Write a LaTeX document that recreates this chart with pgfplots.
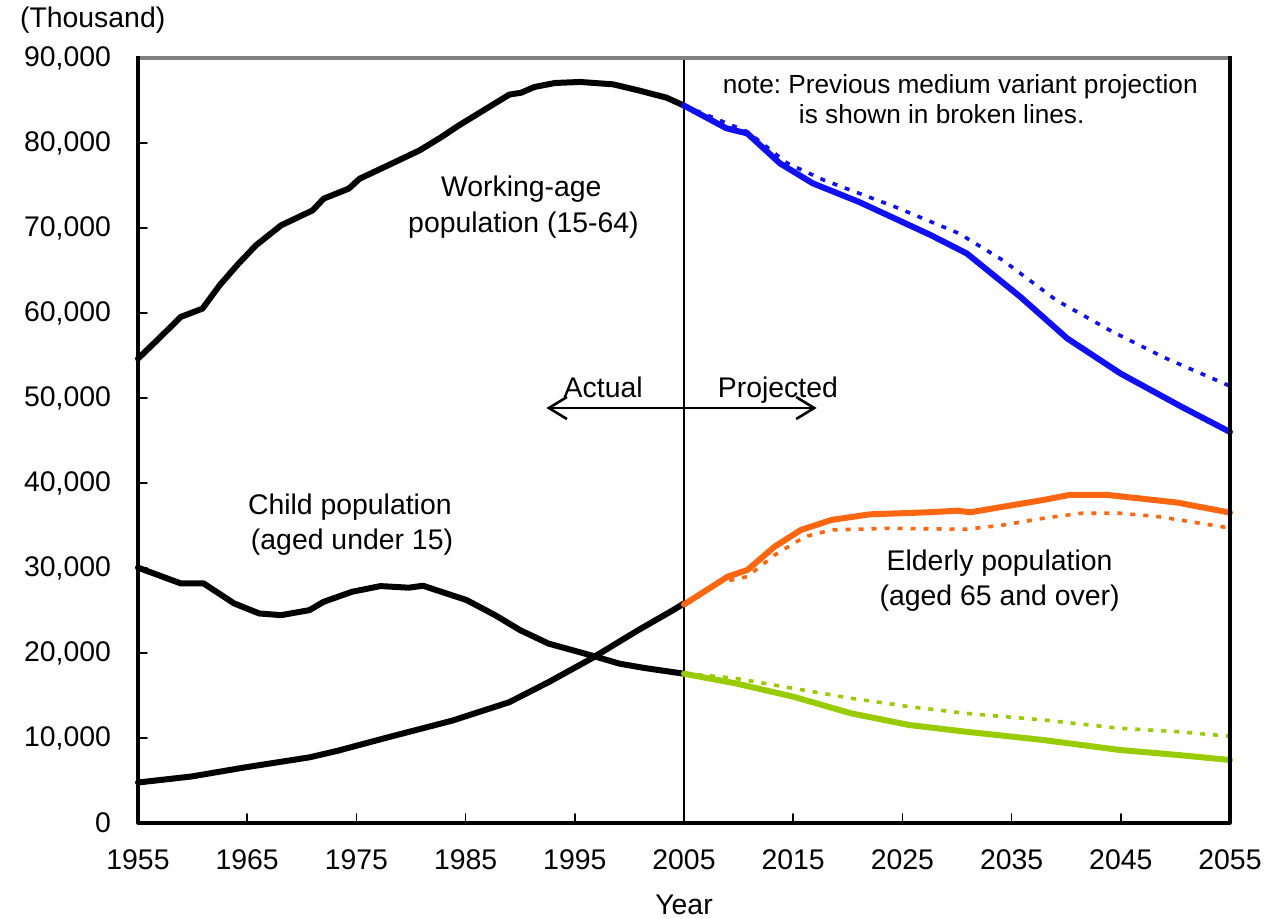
\documentclass[border=0pt]{standalone}
\usepackage{pgfplots}
\pgfplotsset{compat=1.18}
\usepackage{fontspec}
\setmainfont{Liberation Sans}
\usetikzlibrary{arrows.meta}
\definecolor{cblue}{HTML}{1010F0}
\definecolor{corange}{HTML}{FF6610}
\definecolor{cgreen}{HTML}{99CC00}
\frenchspacing
\begin{document}
\begin{tikzpicture}[font=\fontsize{14.2pt}{17pt}\selectfont]
\begin{axis}[
  scale only axis, width=546pt, height=382.5pt,
  xmin=1955, xmax=2055, ymin=0, ymax=90000,
  axis line style={draw=none},
  scaled y ticks=false, scaled x ticks=false,
  xtick={1955,1965,...,2055},
  xticklabels={1955,1965,1975,1985,1995,2005,2015,2025,2035,2045,2055},
  ytick={0,10000,...,90000},
  yticklabels={0,{10,000},{20,000},{30,000},{40,000},{50,000},{60,000},{70,000},{80,000},{90,000}},
  tick align=inside, xtick pos=bottom, ytick pos=left,
  major tick length=4.5pt,
  every tick/.style={black, line width=0.8pt},
  yticklabel style={xshift=-10pt},
  xticklabel style={yshift=-10pt},
  clip=false,
  line join=round, line cap=round,
]
% 2005 divider
\draw[black, line width=0.8pt] (axis cs:2005,0) -- (axis cs:2005,90000);
% working-age actual
\addplot[black, line width=3pt, mark=none] coordinates {
(1955,54630) (1957,57100) (1958.9,59530) (1960.9,60510) (1962.5,63300)
(1964.2,65800) (1965.8,67960) (1968.1,70310) (1971.0,72080) (1972.0,73450)
(1974.3,74630) (1975.3,75800) (1977.9,77370) (1980.8,79140) (1982.8,80710)
(1984.4,82080) (1986.4,83650) (1989.0,85690) (1990.1,85920) (1991.3,86590)
(1993.2,87060) (1995.5,87180) (1998.5,86900) (2000.8,86200) (2003.4,85330) (2005,84400)};
% child actual
\addplot[black, line width=3pt, mark=none] coordinates {
(1955,30040) (1958.9,28190) (1961.0,28190) (1963.8,25830) (1966.1,24650)
(1968.1,24450) (1970.7,25040) (1972.0,26020) (1974.6,27200) (1977.2,27870)
(1979.8,27680) (1981.1,27910) (1985.1,26220) (1987.7,24450) (1990.0,22680)
(1992.6,21100) (1996.5,19720) (1999.1,18740) (2001.4,18230) (2005,17560)};
% elderly actual
\addplot[black, line width=3pt, mark=none] coordinates {
(1955,4760) (1959.9,5470) (1964.8,6540) (1970.7,7720) (1973.3,8500)
(1977.9,10080) (1983.8,12050) (1989.0,14210) (1992.6,16570) (1996.5,19330)
(2000.8,22680) (2004.0,25040) (2005,25830)};
% previous projections (broken)
\addplot[cblue, line width=1.8pt, dash pattern=on 2.5pt off 4pt, line cap=butt, mark=none] coordinates {
(2005,84400) (2010.8,81330) (2014.5,77590) (2017.8,75640) (2024.3,72500)
(2030.2,69350) (2034.2,66200) (2039.1,61500) (2044.0,57960) (2048.9,54800) (2055,51400)};
\addplot[corange, line width=1.8pt, dash pattern=on 2.5pt off 4pt, line cap=butt, mark=none] coordinates {
(2005,25700) (2008.0,28200) (2010.8,28980) (2013.3,31530) (2016.1,33690)
(2018.5,34470) (2023.8,34670) (2030.8,34550) (2034.3,35060) (2037.9,35850)
(2041.4,36440) (2044.9,36440) (2048.4,36050) (2055,34700)};
\addplot[cgreen, line width=1.8pt, dash pattern=on 2.5pt off 4pt, line cap=butt, mark=none] coordinates {
(2005,17600) (2009.7,17020) (2015.0,15840) (2020.3,14670) (2025.6,13690)
(2030.8,12900) (2037.9,12120) (2044.9,11140) (2050.2,10740) (2055,10200)};
% new projections
\addplot[cblue, line width=3pt, mark=none] coordinates {
(2005,84400) (2008.9,81720) (2010.8,81120) (2013.8,77590) (2016.8,75250)
(2021.0,73080) (2027.6,69160) (2030.9,67000) (2035.8,61900) (2040.1,57000)
(2045.0,52860) (2050.6,48940) (2055,46000)};
\addplot[corange, line width=3pt, mark=none] coordinates {
(2005,25700) (2009.0,28980) (2010.8,29760) (2013.3,32510) (2015.7,34470)
(2018.5,35650) (2022.0,36310) (2027.3,36550) (2030.1,36740) (2031.2,36550)
(2034.3,37220) (2037.9,38000) (2040.3,38590) (2043.8,38590) (2046.6,38200)
(2050.2,37690) (2055,36510)};
\addplot[cgreen, line width=3pt, mark=none] coordinates {
(2005,17560) (2009.7,16430) (2015.0,14860) (2020.3,12900) (2025.6,11530)
(2030.8,10740) (2037.9,9760) (2044.9,8590) (2050.2,8000) (2055,7410)};
% arrow
\draw[{Straight Barb[length=9pt,width=11pt]}-{Straight Barb[length=9pt,width=11pt]}, line width=1.3pt]
  (axis cs:1992.4,48820) -- (axis cs:2017.15,48820);
% texts
\node[anchor=base] at (axis cs:1997.6,50030) {Actual};
\node[anchor=base] at (axis cs:2013.6,50030) {Projected};
\node[anchor=base] at (axis cs:1990.1,73650) {Working-age};
\node[anchor=base] at (axis cs:1990.3,69410) {population (15-64)};
\node[anchor=base] at (axis cs:1974.4,36350) {Child population};
\node[anchor=base] at (axis cs:1974.6,32120) {(aged under 15)};
\node[anchor=base] at (axis cs:2033.9,29760) {Elderly population};
\node[anchor=base] at (axis cs:2033.9,25530) {(aged 65 and over)};
\node[anchor=base, font=\fontsize{13.1pt}{16pt}\selectfont] at (axis cs:2030.3,85800) {note: Previous medium variant projection};
\node[anchor=base, font=\fontsize{13.1pt}{16pt}\selectfont] at (axis cs:2028.6,82240) {is shown in broken lines.};
% frame
\draw[gray, line width=1.6pt] (rel axis cs:0,1) -- (rel axis cs:1,1);
\draw[black, line width=1.6pt, line cap=rect] (rel axis cs:0,1) -- (rel axis cs:0,0) -- (rel axis cs:1,0) -- (rel axis cs:1,1);
\coordinate (bl) at (rel axis cs:0,0);
\coordinate (tr) at (rel axis cs:1,1);
\coordinate (yr) at (axis cs:2005,0);
\end{axis}
\node[anchor=base west] at ([xshift=-62.5pt,yshift=15pt]bl |- tr) {(Thousand)};
\node[anchor=base] at ([yshift=-46pt]yr) {Year};
\pgfresetboundingbox
\path ([xshift=-69pt,yshift=-48pt]bl) rectangle ([xshift=17pt,yshift=29pt]tr);
\end{tikzpicture}
\end{document}
